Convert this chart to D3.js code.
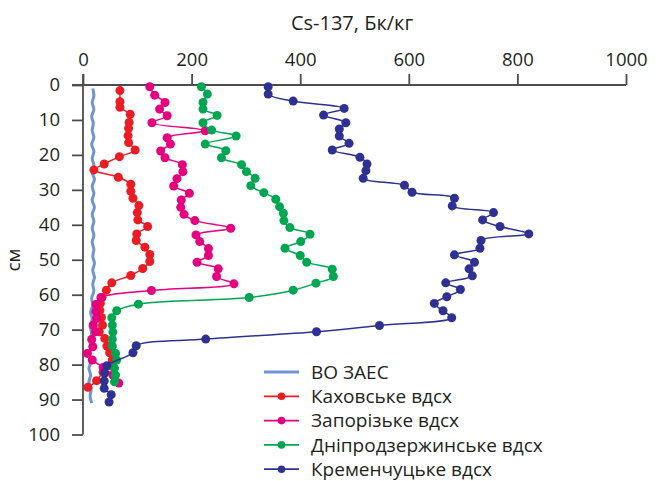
<!DOCTYPE html>
<html>
<head>
<meta charset="utf-8">
<script src="https://cdn.jsdelivr.net/npm/d3@7"></script>
<style>
body { margin: 0; background: #fff; }
svg text { font-family: "Open Sans", sans-serif; fill: #231f20; }
</style>
</head>
<body>
<svg id="chart" width="667" height="481"></svg>
<script>
// Cs-137 по глибині, Бк/кг
const zaesDepth = [1, 3, 5, 7, 9, 11, 13, 15, 17, 19, 21, 23, 25, 27, 29, 31, 33, 35, 37, 39, 41, 43, 45,
    47, 49, 51, 53, 55, 57, 59, 61, 63, 65, 67, 69, 71, 73, 75, 77, 79, 81, 83, 85, 87, 89, 91]
const zaesVal = [18, 20, 17, 20, 16, 19, 17, 20, 16, 20, 17, 20, 17, 21, 17, 20, 17, 21, 17, 20, 17, 20, 17,
    20, 18, 21, 18, 21, 18, 20, 16, 18, 14, 17, 13, 16, 12, 15, 12, 15, 11, 14, 11, 15, 13, 16]

const kakhDepth = [1.6, 4.8, 6.4, 8.4, 10.7, 12.4, 14.5, 16.5, 18.6, 20.5, 22.6, 24.3, 26.4, 28.4, 30.4, 32.4,
    34.5, 36.5, 38.6, 40.5, 42.6, 44.5, 46.4, 48.5, 50.5, 52.5, 54.5, 56.6, 58.7, 60.8, 62.5, 64.5, 66.5,
    68.7, 70.6, 72.5, 74.7, 76.6, 78.7, 80.4, 82.2, 84.6, 86.5]
const kakhVal = [68, 68, 68, 87, 85, 84, 83, 84, 96, 67, 39, 20, 65, 88, 88, 92, 103, 100, 101, 119, 99, 98,
    114, 123, 123, 110, 88, 53, 43, 35, 32, 31, 34, 36, 30, 40, 44, 49, 54, 52, 37, 25, 9]

const zapDepth = [0.5, 2.9, 5, 6.9, 8.8, 10.8, 13.1, 15.1, 16.9, 18.9, 20.8, 22.8, 24.8, 26.8, 28.9, 31, 32.9,
    35, 37, 38.8, 41, 42.9, 44.8, 46.8, 48.8, 50.7, 52.6, 54.8, 56.9, 58.8, 60.8, 62.8, 64.8, 66.8, 68.7,
    70.6, 72.8, 74.9, 76.8, 78.7, 80.8, 83, 85.3]
const zapVal = [123, 132, 151, 141, 155, 127, 225, 155, 161, 143, 151, 183, 184, 173, 167, 196, 181, 180, 186,
    206, 272, 208, 215, 231, 231, 210, 249, 246, 278, 126, 33, 24, 24, 25, 19, 23, 16, 18, 8, 17, 37, 55, 66]

const dnipDepth = [0.5, 2.6, 5, 6.9, 8.7, 10.8, 12.9, 14.6, 16.9, 18.8, 20.8, 22.8, 24.8, 26.7, 28.8, 30.8,
    32.7, 34.8, 36.7, 38.8, 40.8, 42.7, 44.8, 46.7, 48.8, 50.7, 52.7, 54.8, 56.7, 58.7, 60.8, 62.7, 64.6,
    66.6, 68.7, 70.7, 72.8, 74.7, 76.8, 78.7, 81, 83, 84.9]
const dnipVal = [218, 229, 221, 221, 247, 221, 237, 282, 225, 263, 255, 292, 301, 317, 309, 333, 355, 362, 369,
    370, 381, 418, 401, 372, 400, 412, 459, 461, 429, 387, 306, 102, 62, 53, 54, 55, 54, 54, 60, 62, 58, 60, 58]

const kremDepth = [0.5, 2.6, 4.6, 6.7, 8.6, 10.8, 12.6, 14.6, 16.7, 18.6, 20.7, 22.6, 24.5, 26.7, 28.7, 30.7,
    32.4, 34.6, 36.5, 38.6, 40.5, 42.6, 44.5, 46.7, 48.6, 50.7, 52.6, 54.6, 56.6, 58.5, 60.6, 62.5, 64.6,
    66.6, 68.8, 70.6, 72.7, 74.6, 76.6, 80.3, 82.4, 84.7, 86.8, 88.6, 90.7]
const kremVal = [341, 341, 387, 481, 443, 484, 472, 472, 490, 459, 510, 523, 521, 516, 592, 606, 684, 680, 756,
    736, 768, 821, 733, 731, 684, 721, 711, 717, 668, 695, 670, 647, 663, 679, 546, 430, 226, 98, 92, 44,
    40, 39, 39, 52, 48]

const xTicks = [0, 200, 400, 600, 800, 1000]
const yTicks = [0, 10, 20, 30, 40, 50, 60, 70, 80, 90, 100]

const series = [
    { name: 'ВО ЗАЕС', depth: zaesDepth, val: zaesVal, color: '#6f93d3', dots: false },
    { name: 'Каховське вдсх', depth: kakhDepth, val: kakhVal, color: '#ec1c24', dots: true },
    { name: 'Запорізьке вдсх', depth: zapDepth, val: zapVal, color: '#e6007e', dots: true },
    { name: 'Дніпродзержинське вдсх', depth: dnipDepth, val: dnipVal, color: '#00a651', dots: true },
    { name: 'Кременчуцьке вдсх', depth: kremDepth, val: kremVal, color: '#2e3192', dots: true }
]

const svg = d3.select('#chart')
const x = d3.scaleLinear().domain([0, 1000]).range([83, 626])
const y = d3.scaleLinear().domain([0, 100]).range([85, 434.5])
const axisColor = '#4d4d4d'

// top axis
const gx = svg.append('g')
    .attr('transform', `translate(0,${y(0)})`)
    .call(d3.axisTop(x).tickValues(xTicks).tickSize(11).tickPadding(8).tickFormat(d3.format('d')))
gx.select('.domain').remove()
gx.append('line')
    .attr('x1', x(0) - 11).attr('x2', x(1000))
    .attr('stroke', axisColor).attr('stroke-width', 1.8)
gx.selectAll('.tick line').attr('stroke', axisColor).attr('stroke-width', 1.8)
gx.selectAll('.tick text').attr('font-size', 18.5).style('fill', '#231f20')

// left axis
const gy = svg.append('g')
    .attr('transform', `translate(${x(0)},0)`)
    .call(d3.axisLeft(y).tickValues(yTicks).tickSize(11).tickPadding(12))
gy.select('.domain').remove()
gy.append('line')
    .attr('y1', y(0) - 11).attr('y2', y(100))
    .attr('stroke', axisColor).attr('stroke-width', 1.8)
gy.selectAll('.tick line').attr('stroke', axisColor).attr('stroke-width', 1.8)
gy.selectAll('.tick text').attr('font-size', 18.5).style('fill', '#231f20')

svg.append('text')
    .attr('x', 352).attr('y', 30)
    .attr('text-anchor', 'middle')
    .attr('font-size', 20)
    .text('Cs-137, Бк/кг')

svg.append('text')
    .attr('transform', 'translate(20,260) rotate(-90)')
    .attr('text-anchor', 'middle')
    .attr('font-size', 19)
    .text('см')

const line = d3.line()
    .x(d => x(d.v))
    .y(d => y(d.d))
    .curve(d3.curveCatmullRom.alpha(0.5))

series.forEach(s => {
    const pts = s.depth.map((d, i) => ({ d, v: s.val[i] }))
    svg.append('path')
        .datum(pts)
        .attr('fill', 'none')
        .attr('stroke', s.color)
        .attr('stroke-width', s.dots ? 1.5 : 3)
        .attr('d', line)
    if (s.dots) {
        svg.append('g').selectAll('circle')
            .data(pts)
            .enter()
            .append('circle')
            .attr('cx', d => x(d.v))
            .attr('cy', d => y(d.d))
            .attr('r', 4.5)
            .attr('fill', s.color)
    }
})

// legend
const legend = svg.append('g').attr('transform', 'translate(264,372)')
const item = legend.selectAll('g')
    .data(series)
    .enter()
    .append('g')
    .attr('transform', (d, i) => `translate(0,${i * 24.3})`)
item.append('line')
    .attr('x1', 0).attr('x2', 35)
    .attr('stroke', d => d.color)
    .attr('stroke-width', d => d.dots ? 1.8 : 3)
item.filter(d => d.dots).append('circle')
    .attr('cx', 17.5).attr('r', 3.8)
    .attr('fill', d => d.color)
item.append('text')
    .attr('x', 47).attr('dy', '0.35em')
    .attr('font-size', 19)
    .text(d => d.name)
</script>
</body>
</html>
